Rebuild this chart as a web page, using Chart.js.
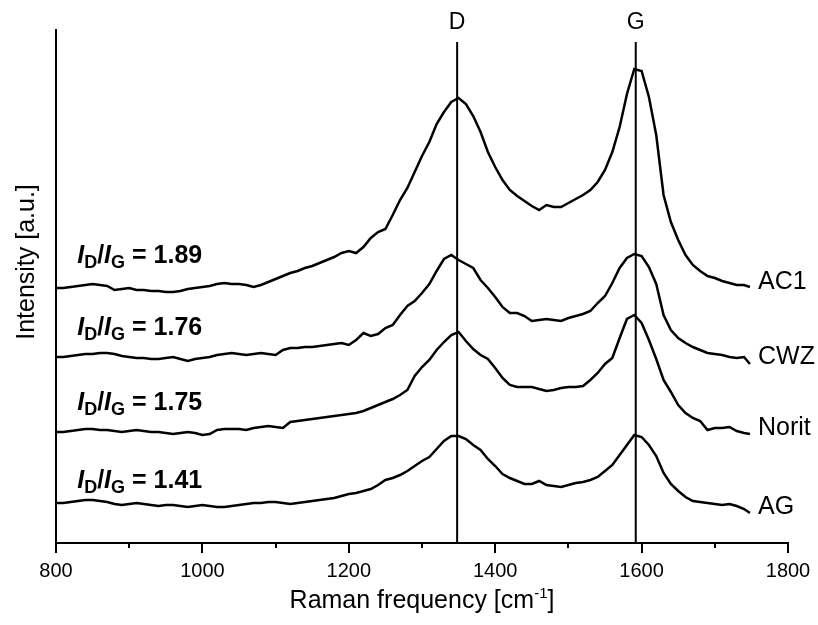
<!DOCTYPE html>
<html>
<head>
<meta charset="utf-8">
<script src="https://cdn.jsdelivr.net/npm/chart.js@4.4.0/dist/chart.umd.min.js"></script>
<style>
    body { margin: 0; background: #fff; }
    #wrap { width: 818px; height: 625px; }
</style>
</head>
<body>
<div id="wrap"><canvas id="myChartRaman" width="818" height="625"></canvas></div>
<script>
// Raman shift (cm-1), shared by all spectra
const wavenumbers = [
    800, 810, 820, 830, 840, 850, 860, 870, 880, 890,
    900, 910, 920, 930, 940, 950, 960, 970, 980, 990,
    1000, 1010, 1020, 1030, 1040, 1050, 1060, 1070, 1080, 1090,
    1100, 1110, 1120, 1130, 1140, 1150, 1160, 1170, 1180, 1190,
    1200, 1210, 1220, 1230, 1240, 1250, 1260, 1270, 1280, 1290,
    1300, 1310, 1320, 1330, 1340, 1350, 1360, 1370, 1380, 1390,
    1400, 1410, 1420, 1430, 1440, 1450, 1460, 1470, 1480, 1490,
    1500, 1510, 1520, 1530, 1540, 1550, 1560, 1570, 1580, 1590,
    1600, 1610, 1620, 1630, 1640, 1650, 1660, 1670, 1680, 1690,
    1700, 1710, 1720, 1730, 1740, 1748
];

// stacked intensities (a.u., offset already included)
const ac1 = [
    255, 255, 256, 257, 258, 259, 258, 257, 253, 254,
    255, 253, 253, 252, 252, 251, 251, 252, 254, 255,
    256, 257, 259, 260, 259, 259, 258, 256, 258, 261,
    264, 267, 270, 272, 275, 277, 280, 283, 286, 290,
    292, 290, 296, 305, 311, 314, 328, 343, 355, 371,
    387, 401, 419, 431, 441, 445, 439, 427, 411, 391,
    376, 363, 353, 347, 342, 337, 333, 338, 336, 336,
    340, 344, 348, 353, 361, 373, 391, 416, 449, 474,
    472, 446, 408, 348, 321, 303, 288, 278, 272, 267,
    265, 262, 260, 258, 258, 256
];
const cwz = [
    186, 186, 187, 188, 189, 189, 190, 190, 189, 187,
    186, 185, 185, 184, 184, 185, 186, 184, 182, 184,
    185, 186, 188, 189, 190, 189, 188, 189, 190, 189,
    188, 193, 195, 195, 196, 196, 197, 198, 199, 200,
    198, 203, 210, 207, 209, 215, 218, 228, 237, 242,
    250, 259, 272, 284, 288, 283, 279, 275, 263, 255,
    246, 236, 230, 230, 227, 222, 223, 224, 223, 222,
    225, 227, 229, 232, 240, 247, 260, 275, 285, 289,
    287, 276, 259, 228, 213, 205, 200, 196, 193, 190,
    189, 188, 186, 185, 186, 179
];
const norit = [
    111, 111, 112, 113, 114, 114, 113, 113, 112, 111,
    112, 113, 112, 111, 111, 110, 109, 110, 111, 110,
    108, 109, 113, 114, 114, 114, 113, 115, 116, 117,
    116, 115, 121, 122, 123, 124, 125, 126, 127, 128,
    129, 130, 132, 135, 138, 141, 144, 148, 153, 167,
    176, 183, 193, 201, 208, 211, 202, 194, 188, 184,
    175, 165, 158, 156, 156, 156, 154, 152, 153, 155,
    156, 156, 157, 163, 170, 179, 185, 205, 224, 228,
    220, 203, 184, 163, 151, 138, 130, 125, 122, 113,
    115, 115, 116, 112, 110, 109
];
const ag = [
    40, 40, 41, 42, 43, 43, 42, 41, 39, 38,
    39, 40, 39, 38, 37, 38, 38, 37, 36, 37,
    38, 37, 36, 36, 37, 38, 39, 40, 40, 41,
    41, 40, 39, 40, 41, 42, 43, 44, 45, 47,
    49, 50, 52, 54, 58, 63, 65, 68, 72, 77,
    82, 86, 94, 102, 107, 107, 104, 98, 93, 84,
    77, 69, 65, 62, 59, 59, 62, 58, 57, 56,
    58, 60, 61, 63, 66, 72, 78, 88, 98, 108,
    106, 98, 87, 70, 59, 52, 46, 42, 41, 40,
    39, 38, 39, 37, 34, 30
];

const sampleNames = ['AC1', 'CWZ', 'Norit', 'AG'];
const ratios = ['1.89', '1.76', '1.75', '1.41'];
const bandNames = ['D', 'G'];
const bandPositions = [1348, 1592];

const xTicks = [800, 900, 1000, 1100, 1200, 1300, 1400, 1500, 1600, 1700, 1800];

// where the text goes, in data units
const ratioAnchor = { x: 829, y: [288, 216, 141, 63] };
const nameAnchor = { x: 1759, y: [261, 186, 115, 36] };
const bandTop = 501;
const bandLabelY = 520;

const FONT = "'Liberation Sans', Arial, Helvetica, sans-serif";

function toPoints(xs, ys) {
    let pts = [];
    for (let i = 0; i < xs.length; i++) {
        pts.push({ x: xs[i], y: ys[i] });
    }
    return pts;
}

let spectra = [ac1, cwz, norit, ag];
let datasets = spectra.map(function (vals, i) {
    return {
        label: sampleNames[i],
        data: toPoints(wavenumbers, vals),
        borderColor: '#000',
        borderWidth: 2.5,
        pointRadius: 0,
        tension: 0,
        fill: false
    };
});
bandPositions.forEach(function (b, i) {
    datasets.push({
        label: bandNames[i],
        data: [{ x: b, y: 0 }, { x: b, y: bandTop }],
        borderColor: '#000',
        borderWidth: 2,
        pointRadius: 0,
        fill: false
    });
});

// draws a run of text pieces: [text, style, size, dy]
function drawRich(ctx, parts, x, y) {
    let cx = x;
    parts.forEach(function (p) {
        ctx.font = p[1] + ' ' + p[2] + 'px ' + FONT;
        ctx.fillText(p[0], cx, y + (p[3] || 0));
        cx += ctx.measureText(p[0]).width;
    });
    return cx - x;
}

const decor = {
    id: 'ramanDecor',
    afterDraw(chart) {
        const ctx = chart.ctx;
        const xs = chart.scales.x;
        const ys = chart.scales.y;
        const base = chart.chartArea.bottom;
        ctx.save();
        ctx.fillStyle = '#000';
        ctx.strokeStyle = '#000';

        // tick marks, major every 200 and minor between
        ctx.lineWidth = 2;
        xTicks.forEach(function (v) {
            let px = Math.round(xs.getPixelForValue(v));
            let len = (v % 200 === 0) ? 10 : 5;
            ctx.beginPath();
            ctx.moveTo(px, base);
            ctx.lineTo(px, base + len);
            ctx.stroke();
        });

        // band labels
        ctx.textAlign = 'center';
        ctx.textBaseline = 'middle';
        ctx.font = '23px ' + FONT;
        bandNames.forEach(function (n, i) {
            ctx.fillText(n, xs.getPixelForValue(bandPositions[i]), ys.getPixelForValue(bandLabelY));
        });

        // axis titles
        ctx.textAlign = 'left';
        ctx.textBaseline = 'alphabetic';
        let tx = (chart.chartArea.left + chart.chartArea.right) / 2;
        ctx.font = '25px ' + FONT;
        let w1 = ctx.measureText('Raman frequency [cm').width;
        ctx.font = '15px ' + FONT;
        let w2 = ctx.measureText('-1').width;
        ctx.font = '25px ' + FONT;
        let w3 = ctx.measureText(']').width;
        drawRich(ctx, [
            ['Raman frequency [cm', '', 25, 0],
            ['-1', '', 15, -10],
            [']', '', 25, 0]
        ], tx - (w1 + w2 + w3) / 2, 608);

        ctx.save();
        ctx.translate(34, 262);
        ctx.rotate(-Math.PI / 2);
        ctx.textAlign = 'center';
        ctx.font = '25px ' + FONT;
        ctx.fillText('Intensity [a.u.]', 0, 0);
        ctx.restore();

        // I_D/I_G annotations
        ctx.textAlign = 'left';
        ratios.forEach(function (r, i) {
            let px = xs.getPixelForValue(ratioAnchor.x);
            let py = ys.getPixelForValue(ratioAnchor.y[i]) + 8;
            drawRich(ctx, [
                ['I', 'italic bold', 25, 0],
                ['D', 'bold', 18, 5],
                ['/', 'bold', 25, 0],
                ['I', 'italic bold', 25, 0],
                ['G', 'bold', 18, 5],
                [' = ' + r, 'bold', 25, 0]
            ], px, py);
        });

        // sample names at the right end
        ctx.textBaseline = 'middle';
        ctx.font = '25px ' + FONT;
        sampleNames.forEach(function (n, i) {
            ctx.fillText(n, xs.getPixelForValue(nameAnchor.x), ys.getPixelForValue(nameAnchor.y[i]));
        });
        ctx.restore();
    }
};

let canvas = document.getElementById('myChartRaman');
let myChartRaman = new Chart(canvas, {
    type: 'line',
    data: { datasets: datasets },
    options: {
        responsive: false,
        animation: false,
        layout: { padding: { left: 0, right: 30, top: 30, bottom: 0 } },
        plugins: {
            legend: { display: false },
            tooltip: { enabled: false }
        },
        scales: {
            x: {
                type: 'linear',
                min: 800,
                max: 1800,
                grid: { display: false },
                border: { display: true, color: '#000', width: 2 },
                ticks: {
                    stepSize: 200,
                    color: '#000',
                    padding: 8,
                    maxRotation: 0,
                    font: { family: FONT, size: 20 },
                    callback: function (v) { return String(v); }
                },
                afterFit: function (s) {
                    s.height = 82;
                    s.paddingLeft = 0;
                    s.paddingRight = 0;
                }
            },
            y: {
                min: 0,
                max: 513,
                grid: { display: false },
                border: { display: true, color: '#000', width: 2 },
                ticks: { display: false },
                afterFit: function (s) { s.width = 56; }
            }
        }
    },
    plugins: [decor]
});
</script>
</body>
</html>
